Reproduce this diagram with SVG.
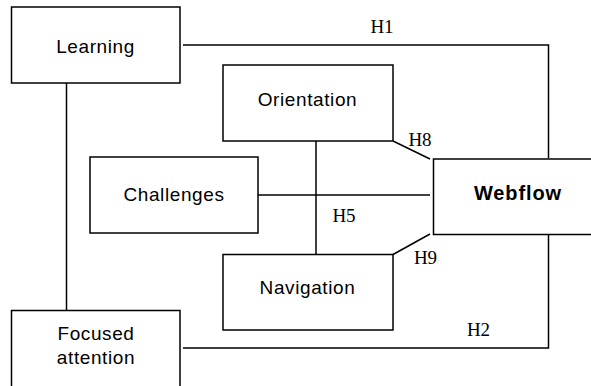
<svg xmlns="http://www.w3.org/2000/svg" width="591" height="386" viewBox="0 0 591 386">
  <style>
    .box { fill: #ffffff; stroke: #000000; stroke-width: 1.5; }
    .link { fill: none; stroke: #000000; stroke-width: 1.5; }
    .name { font-family: "Liberation Sans", Arial, sans-serif; font-size: 19px; letter-spacing: 0.6px; fill: #000000; text-anchor: middle; }
    .bold { font-weight: bold; font-size: 20px; letter-spacing: 0.9px; }
    .hyp { font-family: "Liberation Serif", "Times New Roman", serif; font-size: 19px; fill: #000000; text-anchor: middle; }
  </style>
  <rect width="591" height="386" fill="#ffffff"/>

  <!-- connectors -->
  <g id="connectors">
    <polyline class="link" points="183,45 548.5,45 548.5,158"/>
    <polyline class="link" points="183,348 548.5,348 548.5,235"/>
    <line class="link" x1="66.5" y1="83" x2="66.5" y2="310"/>
    <line class="link" x1="316" y1="141" x2="316" y2="254"/>
    <line class="link" x1="258" y1="195" x2="430" y2="195"/>
    <line class="link" x1="393" y1="141" x2="430" y2="159"/>
    <line class="link" x1="393" y1="254.5" x2="430" y2="234"/>
    <text class="hyp" x="382" y="33">H1</text>
    <text class="hyp" x="420" y="146">H8</text>
    <text class="hyp" x="344" y="222">H5</text>
    <text class="hyp" x="425.5" y="264">H9</text>
    <text class="hyp" x="478.5" y="336">H2</text>
  </g>

  <g id="learning">
    <rect class="box" x="11.5" y="7" width="168.5" height="76"/>
    <text class="name" x="95.5" y="52.5">Learning</text>
  </g>

  <g id="orientation">
    <rect class="box" x="223" y="65" width="170" height="76"/>
    <text class="name" x="307.5" y="105.5">Orientation</text>
  </g>

  <g id="challenges">
    <rect class="box" x="90" y="157" width="168" height="76"/>
    <text class="name" x="174" y="201">Challenges</text>
  </g>

  <g id="webflow">
    <rect class="box" x="433.5" y="159" width="170" height="75.5"/>
    <text class="name bold" x="518" y="200">Webflow</text>
  </g>

  <g id="navigation">
    <rect class="box" x="223" y="254.5" width="170" height="75.5"/>
    <text class="name" x="307.5" y="294">Navigation</text>
  </g>

  <g id="focused-attention">
    <rect class="box" x="11.5" y="310.5" width="168.5" height="80"/>
    <text class="name" x="96" y="340">Focused</text>
    <text class="name" x="96" y="364">attention</text>
  </g>
</svg>
